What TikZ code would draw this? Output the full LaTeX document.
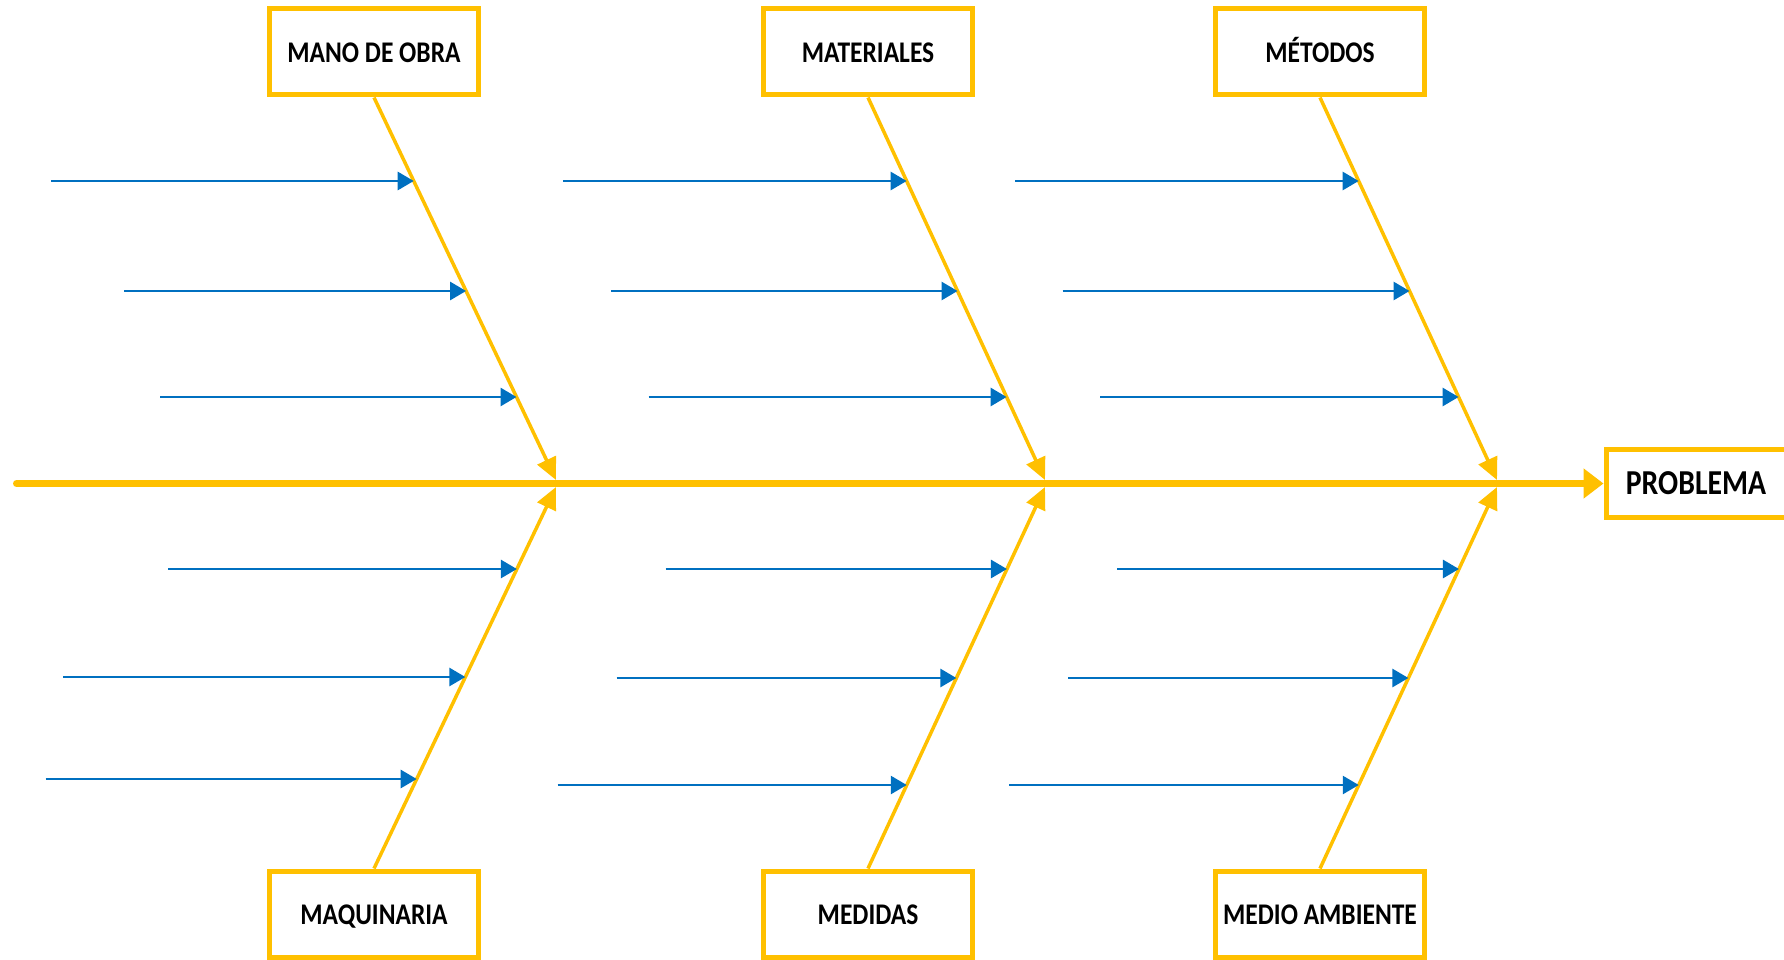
\documentclass[tikz,border=0pt]{standalone}
\usepackage{fontspec}
\setmainfont{Carlito}[FakeStretch=0.85]
\usetikzlibrary{arrows.meta,calc}
\definecolor{gold}{HTML}{FFC000}
\definecolor{steel}{HTML}{0070C0}
% #1 tag, #2 rib start, #3 rib end, #4 y of rib start, #5 rib height (signed), #6 start points x/y
\newcommand\causes[6]{%
  \foreach \sx/\sy [count=\k] in {#6} {
    \coordinate (#1s\k) at (\sx,\sy);
    \coordinate (#1t\k) at ($(#2)!{(\sy-#4)/(#5)}!(#3)$);
    \draw[cause] (#1s\k) -- (#1s\k -| #1t\k);
  }}
\begin{document}
\begin{tikzpicture}[x=1pt,y=-1pt,
  catbox/.style={draw=gold,line width=5pt,fill=white,minimum width=209pt,
    minimum height=86pt,inner sep=0pt,text height=21pt,text depth=0pt,
    font=\fontsize{30}{36}\selectfont\bfseries},
  probbox/.style={catbox,minimum width=180pt,minimum height=68pt,
    text height=22pt,font=\fontsize{35}{42}\selectfont\bfseries},
  spine/.style={draw=gold,line width=7pt,line cap=round,
    -{Triangle[length=20pt,width=29pt]}},
  rib/.style={draw=gold,line width=3.5pt,-{Triangle[length=22pt,width=20pt]}},
  cause/.style={draw=steel,line width=2.8pt,-{Triangle[length=16pt,width=18pt]}}]
\useasboundingbox (0,0) rectangle (1784,960);

% category boxes
\node[catbox] (m1) at (374,52) {MANO DE OBRA};
\node[catbox] (m2) at (868,52) {MATERIALES};
\node[catbox] (m3) at (1320,52) {MÉTODOS};
\node[catbox] (q1) at (374,914) {MAQUINARIA};
\node[catbox] (q2) at (868,914) {MEDIDAS};
\node[catbox] (q3) at (1320,914) {MEDIO AMBIENTE};
\node[probbox] (prob) at (1696,483.5) {PROBLEMA};

% spine
\coordinate (tail) at (16.5,483.5);
\draw[spine] (tail) -- (prob.west);

% junctions on the spine
\coordinate (j1u) at (556,480);  \coordinate (j1d) at (556,487);
\coordinate (j2u) at (1045,480); \coordinate (j2d) at (1045,487);
\coordinate (j3u) at (1497,480); \coordinate (j3d) at (1497,487);

% ribs
\draw[rib] (m1.south) -- (j1u);
\draw[rib] (m2.south) -- (j2u);
\draw[rib] (m3.south) -- (j3u);
\draw[rib] (q1.north) -- (j1d);
\draw[rib] (q2.north) -- (j2d);
\draw[rib] (q3.north) -- (j3d);

% sub-causes
\causes{a}{m1.south}{j1u}{97.5}{382.5}{51/181,124/291,160/397}
\causes{b}{q1.north}{j1d}{868.5}{-381.5}{168/569,63/677,45.5/779}
\causes{c}{m2.south}{j2u}{97.5}{382.5}{563/181,611/291,648.5/397}
\causes{d}{q2.north}{j2d}{868.5}{-381.5}{665.6/569,616.7/678,557.5/785}
\causes{e}{m3.south}{j3u}{97.5}{382.5}{1015/181,1062.7/291,1100.3/397}
\causes{f}{q3.north}{j3d}{868.5}{-381.5}{1117.3/569,1068.4/678,1009.2/785}
\end{tikzpicture}
\end{document}
